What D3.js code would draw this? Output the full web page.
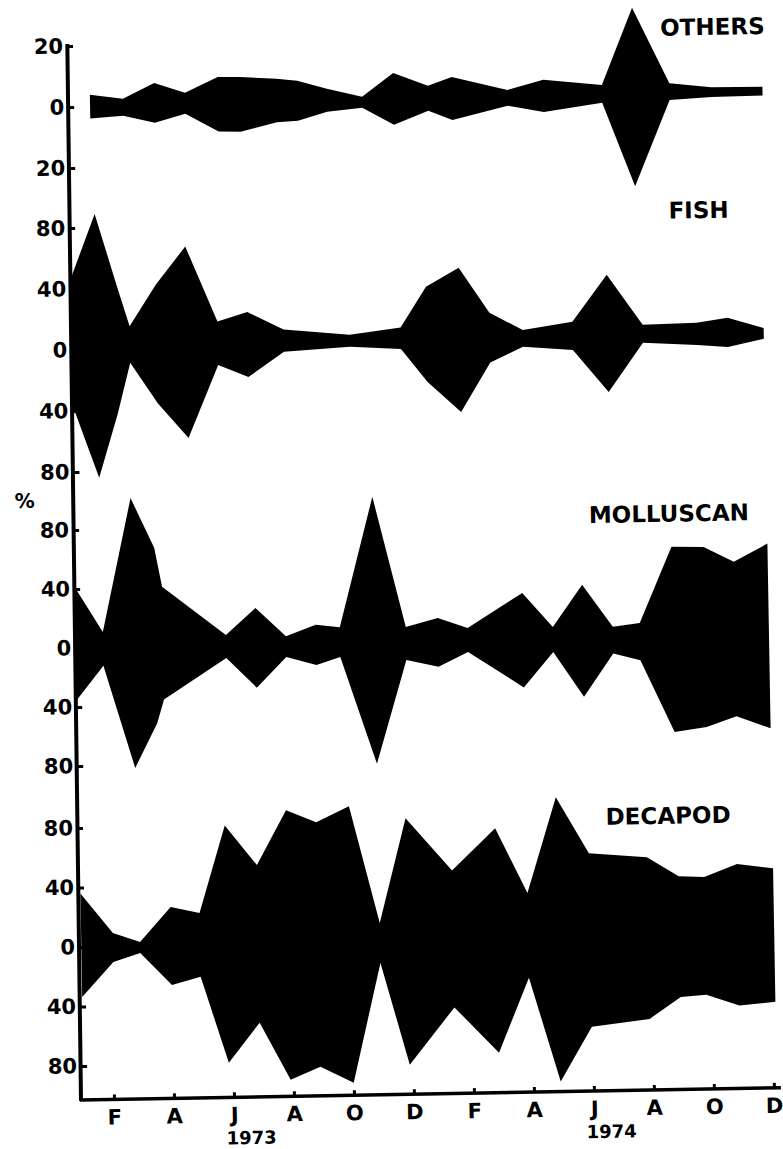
<!DOCTYPE html>
<html>
<head>
<meta charset="utf-8">
<script src="https://cdn.jsdelivr.net/npm/d3@7/dist/d3.min.js"></script>
<style>
  body { margin: 0; background: #fff; }
  text { font-family: "DejaVu Sans", sans-serif; font-weight: bold; fill: #000; }
</style>
</head>
<body>
<svg id="chart"></svg>
<script>
// month index: 0 = Jan 1973 ... 23 = Dec 1974
const monthTicks = [1, 3, 5, 7, 9, 11, 13, 15, 17, 19, 21, 23];
const monthLabels = ["F", "A", "J", "A", "O", "D", "F", "A", "J", "A", "O", "D"];
const yearLabels = ["1973", "1974"];
const yearMonths = [5, 17];

// kite half-widths (%), upper and lower side read separately
const othersMonths = [0.78, 1.88, 2.93, 3.95, 5.05, 5.78, 7.0, 7.7, 8.68, 9.85, 10.9, 12.05, 12.85, 14.7, 15.9, 17.85, 18.9, 20.1, 21.5, 23.2];
const othersUpper  = [3.9, 2.4, 7.4, 4.0, 9.0, 8.9, 8.1, 7.3, 4.5, 1.7, 9.3, 4.9, 7.7, 3.1, 6.2, 4.2, 29.3, 4.4, 2.8, 2.7];
const othersLower  = [3.9, 3.2, 5.6, 2.9, 8.9, 9.1, 6.2, 5.8, 3.0, 1.9, 7.7, 3.3, 6.4, 2.1, 4.3, 1.6, 29.2, 1.1, 0.4, 0.2];

const fishMonths = [0, 0.87, 1.53, 1.97, 2.87, 3.87, 4.9, 5.9, 7.1, 9.3, 11.0, 11.87, 12.97, 13.97, 15.07, 16.73, 17.9, 19.07, 20.87, 21.9, 23.1];
const fishUpper  = [45, 89, 44, 15, 42, 66.6, 17, 23, 11, 6.8, 11, 37.4, 49.6, 19.7, 8, 12.8, 43.3, 10, 10.7, 13.6, 6.6];
const fishLower  = [35, 84, 42, 9, 36, 59, 11.4, 19.7, 3.6, 1.1, 3, 25, 45, 13, 3, 5.7, 33.7, 1.8, 3.8, 5.5, 0.5];

const molluscMonths = [0, 0.9, 1.9, 2.66, 2.9, 5.0, 6.0, 7.0, 8.0, 8.8, 9.96, 11.0, 12.07, 13.06, 14.9, 15.9, 16.9, 17.9, 18.8, 19.9, 20.97, 21.97, 23.1];
const molluscUpper  = [40.8, 10.6, 101, 67, 40.5, 7, 25, 5.5, 12.9, 11, 99, 10.4, 16, 9, 32, 8.6, 36.9, 8, 10.3, 61.6, 61, 50.7, 62.6];
const molluscLower  = [35, 12.4, 82, 52, 36, 8.6, 29, 8.6, 14.4, 9.2, 82, 12, 17, 7.3, 32, 8.4, 39, 10, 15, 64, 61, 54, 62.6];

const decapodMonths = [0, 1.06, 1.96, 3.0, 3.96, 4.85, 5.9, 6.9, 7.9, 9.0, 9.96, 10.88, 12.4, 13.86, 14.9, 15.9, 16.97, 18.9, 19.95, 20.8, 21.9, 23.1];
const decapodUpper  = [36, 9, 2.7, 25.8, 21.5, 80, 53, 89.5, 81, 91.5, 12.6, 82.7, 47, 75, 31, 95, 57, 53.7, 40.6, 39.7, 48, 44.8];
const decapodLower  = [33.6, 10.4, 4.7, 26.6, 21.5, 79.5, 53, 91.7, 83.3, 94.4, 14.2, 83, 45, 76, 26, 96, 59.6, 55, 40.6, 39.5, 47, 45];

const width = 783;
const height = 1149;

const svg = d3.select("#chart")
    .attr("width", width)
    .attr("height", height);

// the original figure is scanned slightly askew
const g = svg.append("g").attr("transform", "rotate(-1, 81, 1100)");

const x = d3.scaleLinear().domain([0, 23]).range([84, 774]);

// y axis leans a little less than the x axis in the scan
const axisX = yPos => 81 + (1100 - yPos) * 0.0045;

const panels = [
    { name: "OTHERS", months: othersMonths, upper: othersUpper, lower: othersLower,
      max: 20, ticks: [20, 0, -20], range: [168, 46], labelX: 731, labelY: 46 },
    { name: "FISH", months: fishMonths, upper: fishUpper, lower: fishLower,
      max: 80, ticks: [80, 40, 0, -40, -80], range: [472, 228], labelX: 714, labelY: 229 },
    { name: "MOLLUSCAN", months: molluscMonths, upper: molluscUpper, lower: molluscLower,
      max: 80, ticks: [80, 40, 0, -40, -80], range: [766, 530], labelX: 679, labelY: 532 },
    { name: "DECAPOD", months: decapodMonths, upper: decapodUpper, lower: decapodLower,
      max: 80, ticks: [80, 40, 0, -40, -80], range: [1066, 828], labelX: 673, labelY: 834 }
];

panels.forEach(p => {
    const y = d3.scaleLinear().domain([-p.max, p.max]).range(p.range);
    const rows = p.months.map((m, i) => ({ m: m, hi: p.upper[i], lo: p.lower[i] }));

    const area = d3.area()
        .x(d => x(d.m))
        .y0(d => y(-d.lo))
        .y1(d => y(d.hi));

    g.append("path")
        .datum(rows)
        .attr("d", area)
        .attr("fill", "#000");

    const axis = g.append("g")
        .attr("transform", "translate(" + axisX(y(0)) + ",0)")
        .call(d3.axisLeft(y)
            .tickValues(p.ticks)
            .tickFormat(d => Math.abs(d))
            .tickSizeInner(-6)
            .tickSizeOuter(0)
            .tickPadding(4));
    axis.select(".domain").remove();
    axis.selectAll(".tick line").attr("stroke", "#000").attr("stroke-width", 3);
    axis.selectAll(".tick text")
        .style("font-size", "21px")
        .style("font-family", "'DejaVu Sans', sans-serif")
        .style("font-weight", "bold");

    g.append("text")
        .attr("x", p.labelX)
        .attr("y", p.labelY)
        .attr("text-anchor", "middle")
        .style("font-size", "23px")
        .text(p.name);
});

// y axis line
g.append("line")
    .attr("x1", axisX(44)).attr("x2", axisX(1101))
    .attr("y1", 44).attr("y2", 1101)
    .attr("stroke", "#000").attr("stroke-width", 4);

// x axis
const xAxis = g.append("g")
    .attr("transform", "translate(0,1100)")
    .call(d3.axisBottom(x)
        .tickValues(monthTicks)
        .tickFormat((d, i) => monthLabels[i])
        .tickSizeInner(-5)
        .tickSizeOuter(0)
        .tickPadding(10));
xAxis.select(".domain").remove();
xAxis.selectAll(".tick line").attr("stroke", "#000").attr("stroke-width", 3);
xAxis.selectAll(".tick text")
    .style("font-size", "21px")
    .style("font-family", "'DejaVu Sans', sans-serif")
    .style("font-weight", "bold");

g.append("line")
    .attr("x1", 80).attr("x2", 781)
    .attr("y1", 1100).attr("y2", 1100)
    .attr("stroke", "#000").attr("stroke-width", 3.5);

g.selectAll(".year")
    .data(yearLabels)
    .enter()
    .append("text")
    .attr("class", "year")
    .attr("x", (d, i) => x(yearMonths[i]) + 17)
    .attr("y", 1147)
    .attr("text-anchor", "middle")
    .style("font-size", "18px")
    .text(d => d);

g.append("text")
    .attr("x", 35)
    .attr("y", 507)
    .attr("text-anchor", "middle")
    .style("font-size", "20px")
    .text("%");
</script>
</body>
</html>
